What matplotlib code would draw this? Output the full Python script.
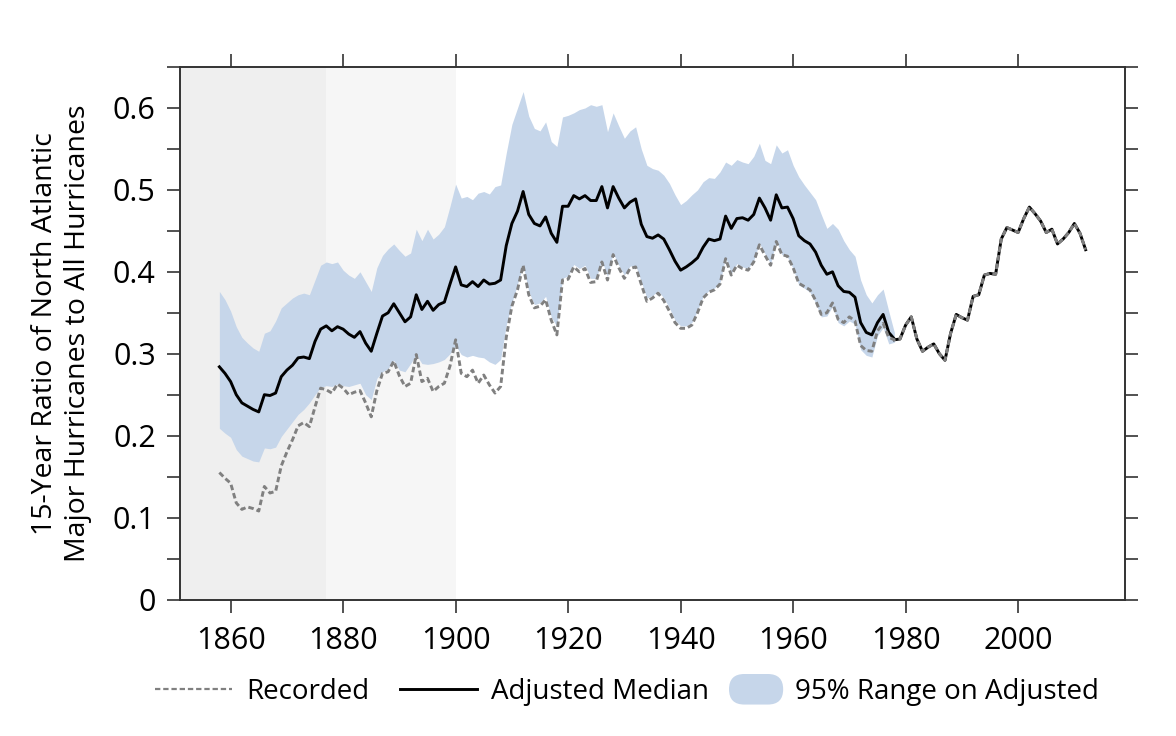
import numpy as np
import matplotlib
matplotlib.use("Agg")
import matplotlib.pyplot as plt
import matplotlib.patches as mpatches
from matplotlib.lines import Line2D
from matplotlib.legend_handler import HandlerPatch
from matplotlib.ticker import MultipleLocator, FuncFormatter

plt.rcParams['font.family'] = ['Open Sans', 'DejaVu Sans']

# years of the 15-year running ratio
years = np.arange(1858, 2013)
adj_years = np.arange(1858, 1979)

recorded = [
    0.155, 0.148,
    0.142, 0.118, 0.110, 0.113, 0.111, 0.108, 0.138, 0.130, 0.132, 0.163,
    0.180, 0.195, 0.212, 0.216, 0.211, 0.235, 0.258, 0.256, 0.252, 0.263,
    0.258, 0.250, 0.253, 0.255, 0.240, 0.223, 0.255, 0.276, 0.278, 0.291,
    0.273, 0.260, 0.264, 0.299, 0.266, 0.270, 0.254, 0.260, 0.264, 0.285,
    0.317, 0.276, 0.272, 0.280, 0.264, 0.274, 0.262, 0.252, 0.260, 0.320,
    0.358, 0.378, 0.408, 0.372, 0.356, 0.358, 0.366, 0.341, 0.323, 0.390,
    0.391, 0.406, 0.400, 0.404, 0.387, 0.388, 0.412, 0.390, 0.421, 0.405,
    0.392, 0.404, 0.406, 0.385, 0.364, 0.368, 0.374, 0.365, 0.352, 0.338,
    0.331, 0.331, 0.335, 0.350, 0.368, 0.375, 0.378, 0.385, 0.416, 0.396,
    0.408, 0.404, 0.402, 0.412, 0.433, 0.420, 0.408, 0.437, 0.421, 0.419,
    0.405, 0.386, 0.382, 0.378, 0.365, 0.348, 0.350, 0.362, 0.342, 0.338,
    0.345, 0.340, 0.310, 0.304, 0.303, 0.328, 0.337, 0.320, 0.317, 0.318,
    0.335, 0.345, 0.318, 0.303, 0.308, 0.312, 0.300, 0.292, 0.325, 0.348,
    0.344, 0.341, 0.370, 0.372, 0.396, 0.398, 0.397, 0.440, 0.454, 0.451,
    0.448, 0.465, 0.479, 0.471, 0.462, 0.448, 0.452, 0.434, 0.440, 0.448,
    0.459, 0.447, 0.427,
]

adjusted_median = [
    0.284, 0.276,
    0.266, 0.250, 0.240, 0.236, 0.232, 0.229, 0.250, 0.249, 0.252, 0.272,
    0.280, 0.286, 0.295, 0.296, 0.294, 0.315, 0.330, 0.334, 0.328, 0.333,
    0.330, 0.324, 0.320, 0.327, 0.313, 0.303, 0.325, 0.346, 0.350, 0.361,
    0.350, 0.339, 0.345, 0.372, 0.354, 0.364, 0.353, 0.360, 0.363, 0.385,
    0.406, 0.384, 0.382, 0.388, 0.382, 0.390, 0.385, 0.386, 0.390, 0.432,
    0.459, 0.474, 0.498, 0.470, 0.459, 0.456, 0.467, 0.447, 0.436, 0.480,
    0.480, 0.493, 0.489, 0.493, 0.487, 0.487, 0.504, 0.478, 0.504, 0.490,
    0.478, 0.485, 0.489, 0.458, 0.443, 0.441, 0.445, 0.440, 0.427, 0.413,
    0.402, 0.406, 0.411, 0.417, 0.430, 0.440, 0.438, 0.440, 0.468, 0.453,
    0.465, 0.466, 0.463, 0.470, 0.490, 0.478, 0.463, 0.494, 0.478, 0.479,
    0.465, 0.444, 0.438, 0.434, 0.424, 0.408, 0.397, 0.400, 0.383, 0.376,
    0.375, 0.369, 0.338, 0.326, 0.323, 0.338, 0.348, 0.326, 0.318,
]

range_upper = [
    0.376, 0.366,
    0.352, 0.333, 0.320, 0.313, 0.307, 0.303, 0.325, 0.328, 0.340, 0.356,
    0.362, 0.368, 0.372, 0.374, 0.372, 0.390, 0.408, 0.412, 0.410, 0.412,
    0.402, 0.396, 0.392, 0.400, 0.388, 0.376, 0.405, 0.420, 0.428, 0.434,
    0.426, 0.419, 0.423, 0.452, 0.438, 0.452, 0.440, 0.446, 0.455, 0.480,
    0.507, 0.490, 0.492, 0.488, 0.496, 0.498, 0.495, 0.504, 0.506, 0.545,
    0.580, 0.600, 0.620, 0.590, 0.575, 0.572, 0.583, 0.559, 0.553, 0.589,
    0.591, 0.594, 0.598, 0.600, 0.604, 0.602, 0.604, 0.571, 0.594, 0.578,
    0.563, 0.572, 0.577, 0.550, 0.530, 0.526, 0.524, 0.518, 0.508, 0.494,
    0.482, 0.487, 0.494, 0.500, 0.510, 0.515, 0.514, 0.522, 0.534, 0.530,
    0.537, 0.534, 0.532, 0.541, 0.557, 0.536, 0.532, 0.555, 0.545, 0.549,
    0.530, 0.516, 0.506, 0.497, 0.488, 0.470, 0.453, 0.459, 0.452, 0.438,
    0.427, 0.419, 0.390, 0.372, 0.362, 0.372, 0.379, 0.352, 0.326,
]

range_lower = [
    0.209, 0.203,
    0.198, 0.183, 0.175, 0.172, 0.169, 0.168, 0.185, 0.184, 0.186, 0.199,
    0.208, 0.217, 0.226, 0.232, 0.240, 0.250, 0.259, 0.261, 0.260, 0.263,
    0.261, 0.260, 0.262, 0.264, 0.250, 0.244, 0.270, 0.278, 0.282, 0.292,
    0.280, 0.278, 0.288, 0.299, 0.288, 0.287, 0.288, 0.290, 0.293, 0.300,
    0.310, 0.299, 0.296, 0.298, 0.296, 0.295, 0.290, 0.287, 0.293, 0.335,
    0.362, 0.385, 0.408, 0.376, 0.360, 0.362, 0.370, 0.345, 0.333, 0.392,
    0.395, 0.409, 0.404, 0.408, 0.392, 0.392, 0.414, 0.394, 0.423, 0.408,
    0.396, 0.407, 0.408, 0.388, 0.368, 0.371, 0.377, 0.368, 0.356, 0.341,
    0.334, 0.334, 0.338, 0.353, 0.370, 0.377, 0.380, 0.387, 0.418, 0.398,
    0.410, 0.406, 0.404, 0.414, 0.435, 0.422, 0.410, 0.438, 0.421, 0.418,
    0.404, 0.384, 0.380, 0.375, 0.362, 0.345, 0.346, 0.358, 0.338, 0.334,
    0.340, 0.336, 0.305, 0.298, 0.296, 0.322, 0.332, 0.312, 0.314,
]

# periods of sparse observation (shaded backgrounds)
early_period = (1851, 1877)
mid_period = (1877, 1900)

band_color = '#c6d6ea'
axis_color = '#333333'

fig = plt.figure(figsize=(11.76, 7.36), dpi=100)
ax = fig.add_axes([180 / 1176, 136.5 / 736, 945 / 1176, 532.5 / 736])

ax.axvspan(*early_period, color='#efefef', lw=0, zorder=0)
ax.axvspan(*mid_period, color='#f6f6f6', lw=0, zorder=0)

ax.fill_between(adj_years, range_lower, range_upper, color=band_color,
                lw=0, zorder=1)
ax.plot(adj_years, adjusted_median, color='black', lw=2.1, zorder=2)
# after 1978 the adjusted median equals the recorded ratio
tail = years >= 1978
ax.plot(years[tail], np.array(recorded)[tail], color='black', lw=2.1, zorder=2)
ax.plot(years, recorded, color='#808080', lw=2.1, dashes=(1.9, 1.05), zorder=3)

ax.set_xlim(1851, 2019)
ax.set_ylim(0, 0.65)
ax.set_xticks(range(1860, 2001, 20))
ax.yaxis.set_major_locator(MultipleLocator(0.1))
ax.yaxis.set_minor_locator(MultipleLocator(0.05))
ax.yaxis.set_major_formatter(FuncFormatter(lambda v, p: f'{v:g}'))

ax.tick_params(axis='both', which='both', direction='out', length=9.4,
               width=1.2, color=axis_color, labelsize=22, pad=8)
ax.tick_params(axis='x', top=True, labeltop=False, pad=10)
ax.tick_params(axis='y', which='both', right=True, labelright=False)
for sp in ax.spines.values():
    sp.set_color(axis_color)
    sp.set_linewidth(1.4)

ax.set_ylabel('15-Year Ratio of North Atlantic\nMajor Hurricanes to All Hurricanes',
              fontsize=20.5, linespacing=1.25)
ax.yaxis.set_label_coords(-0.093, 0.5)


def blob(legend, orig_handle, xdescent, ydescent, width, height, fontsize):
    h = 22
    cy = -ydescent + height / 2
    return mpatches.FancyBboxPatch((-xdescent, cy - h / 2), width, h,
                                   boxstyle=f'round,pad=0,rounding_size={h / 2}')


line_handles = [
    Line2D([], [], color='#808080', lw=1.6, dashes=(2.4, 1.3)),
    Line2D([], [], color='black', lw=2.1),
]
fig.legend(line_handles, ['Recorded', 'Adjusted Median'], ncol=2,
           loc='center left', bbox_to_anchor=(155 / 1176, 1 - 692 / 736),
           frameon=False, fontsize=20, handlelength=2.77, handletextpad=0.5,
           columnspacing=1.12, borderpad=0, borderaxespad=0)

band_handle = mpatches.Patch(facecolor=band_color, edgecolor='none')
fig.legend([band_handle], ['95% Range on Adjusted'],
           loc='center left', bbox_to_anchor=(729 / 1176, 1 - 692 / 736),
           frameon=False, fontsize=20, handlelength=1.95, handletextpad=0.43,
           borderpad=0, borderaxespad=0,
           handler_map={mpatches.Patch: HandlerPatch(patch_func=blob)})

fig.savefig('out.png', dpi=100)
